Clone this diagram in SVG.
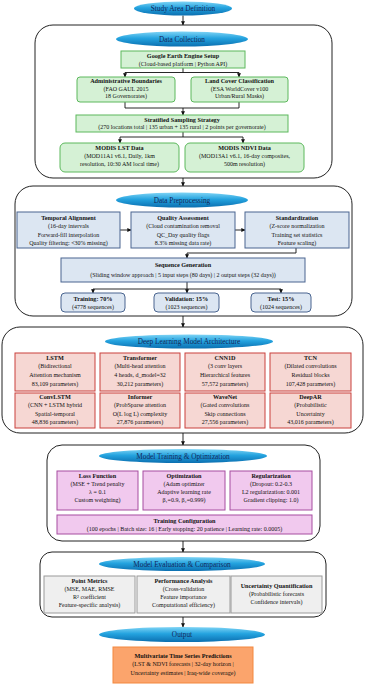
<svg xmlns="http://www.w3.org/2000/svg" width="366" height="685" viewBox="0 0 366 685">
<defs>
<linearGradient id="bg" x1="0" y1="0" x2="0" y2="1">
<stop offset="0" stop-color="#7fd4f5"/>
<stop offset="0.45" stop-color="#24a3df"/>
<stop offset="1" stop-color="#0b6fb0"/>
</linearGradient>
<marker id="ar" viewBox="0 0 6 6" refX="5.5" refY="3" markerWidth="4" markerHeight="4" orient="auto" markerUnits="userSpaceOnUse">
<path d="M0,0 L6,3 L0,6 z" fill="#111"/>
</marker>
</defs>
<style>
text{font-family:"Liberation Serif","Times New Roman",serif;font-size:6px;fill:#111;text-anchor:middle}
.t{font-weight:bold;font-size:6.2px}
.e text{font-size:7.3px;fill:#14285a}
.ell{fill:url(#bg)}
.outer{fill:#fff;stroke:#222;stroke-width:1}
.g{fill:#d5f1d5;stroke:#5cb85c;stroke-width:1}
.b{fill:#dce6f2;stroke:#4a6590;stroke-width:1}
.r{fill:#f6d7d3;stroke:#c9403c;stroke-width:1}
.p{fill:#f1c9ee;stroke:#a64ca0;stroke-width:1}
.k{fill:#efefef;stroke:#9a9a9a;stroke-width:1}
.o{fill:#fba46c;stroke:#f3883e;stroke-width:1}
.c path{fill:none;stroke:#111;stroke-width:0.9}
</style>

<g id="containers">
<rect class="outer" x="35" y="25" width="297" height="153" rx="18"/>
<rect class="outer" x="15" y="186" width="337" height="130" rx="18"/>
<rect class="outer" x="2" y="327" width="361" height="106" rx="18"/>
<rect class="outer" x="47" y="445" width="273" height="96" rx="15"/>
<rect class="outer" x="40" y="552" width="286" height="65" rx="12"/>
</g>

<g id="connectors" class="c">
<path d="M183,15.5 V25" marker-end="url(#ar)"/>
<path d="M183,68 V72.5 M125,72.5 H239"/>
<path d="M125,72.5 V77" marker-end="url(#ar)"/>
<path d="M239,72.5 V77" marker-end="url(#ar)"/>
<path d="M125,102 V108 H239 V102"/>
<path d="M183,108 V115" marker-end="url(#ar)"/>
<path d="M183,132 V137 M120,137 H243"/>
<path d="M120,137 V143" marker-end="url(#ar)"/>
<path d="M243,137 V143" marker-end="url(#ar)"/>
<path d="M183,178 V186" marker-end="url(#ar)"/>
<path d="M120,230 H131" marker-end="url(#ar)"/>
<path d="M235,230 H245" marker-end="url(#ar)"/>
<path d="M296,248 V253 H187 V258" marker-end="url(#ar)"/>
<path d="M187,282 V289 M93,289 H281"/>
<path d="M93,289 V293" marker-end="url(#ar)"/>
<path d="M187,289 V293" marker-end="url(#ar)"/>
<path d="M281,289 V293" marker-end="url(#ar)"/>
<path d="M183,316 V327" marker-end="url(#ar)"/>
<path d="M183,433 V445" marker-end="url(#ar)"/>
<path d="M183,541 V552" marker-end="url(#ar)"/>
<path d="M183,617 V627" marker-end="url(#ar)"/>
</g>

<g id="study-area" class="e"><ellipse class="ell" cx="183" cy="8.5" rx="49" ry="7"/><text x="183" y="11">Study Area Definition</text></g>

<g id="data-collection-title" class="e"><ellipse class="ell" cx="182" cy="39" rx="66" ry="7.5"/><text x="182" y="41.5">Data Collection</text></g>
<g id="gee"><rect class="g" x="121" y="51" width="124" height="17"/><text class="t" x="183" y="58">Google Earth Engine Setup</text><text x="183" y="65.5">(Cloud-based platform | Python API)</text></g>
<g id="admin"><rect class="g" x="77" y="77" width="98" height="25" rx="3"/><text class="t" x="126" y="83">Administrative Boundaries</text><text x="126" y="90.5">(FAO GAUL 2015</text><text x="126" y="98">18 Governorates)</text></g>
<g id="landcover"><rect class="g" x="191" y="77" width="97" height="25" rx="3"/><text class="t" x="239.5" y="83">Land Cover Classification</text><text x="239.5" y="90.5">(ESA WorldCover v100</text><text x="239.5" y="98">Urban/Rural Masks)</text></g>
<g id="sampling"><rect class="g" x="76" y="115" width="212" height="17"/><text class="t" x="182" y="121.5">Stratified Sampling Strategy</text><text x="182" y="129">(270 locations total | 135 urban + 135 rural | 2 points per governorate)</text></g>
<g id="modis-lst"><rect class="g" x="60" y="143" width="119" height="29" rx="5"/><text class="t" x="119.5" y="149.5">MODIS LST Data</text><text x="119.5" y="157.5">(MOD11A1 v6.1, Daily, 1km</text><text x="119.5" y="165.5">resolution, 10:30 AM local time)</text></g>
<g id="modis-ndvi"><rect class="g" x="185" y="143" width="119" height="29" rx="5"/><text class="t" x="244.5" y="149.5">MODIS NDVI Data</text><text x="244.5" y="157.5">(MOD13A1 v6.1, 16-day composites,</text><text x="244.5" y="165.5">500m resolution)</text></g>

<g id="preprocessing-title" class="e"><ellipse class="ell" cx="182" cy="200" rx="66" ry="7.5"/><text x="182" y="202.5">Data Preprocessing</text></g>
<g id="temporal"><rect class="b" x="17" y="212" width="103" height="36"/><text class="t" x="68.5" y="219.5">Temporal Alignment</text><text x="68.5" y="228">(16-day intervals</text><text x="68.5" y="236.5">Forward-fill interpolation</text><text x="68.5" y="245">Quality filtering: &lt;30% missing)</text></g>
<g id="quality"><rect class="b" x="131" y="212" width="104" height="36"/><text class="t" x="183" y="219.5">Quality Assessment</text><text x="183" y="228">(Cloud contamination removal</text><text x="183" y="236.5">QC_Day quality flags</text><text x="183" y="245">8.3% missing data rate)</text></g>
<g id="standardization"><rect class="b" x="245" y="212" width="104" height="36"/><text class="t" x="297" y="219.5">Standardization</text><text x="297" y="228">(Z-score normalization</text><text x="297" y="236.5">Training set statistics</text><text x="297" y="245">Feature scaling)</text></g>
<g id="sequence"><rect class="b" x="61" y="258" width="244" height="24"/><text class="t" x="183" y="267">Sequence Generation</text><text x="183" y="276.5">(Sliding window approach | 5 input steps (80 days) | 2 output steps (32 days))</text></g>
<g id="training-split"><rect class="b" x="61" y="293" width="64" height="19" rx="4"/><text class="t" x="93" y="300.5">Training: 70%</text><text x="93" y="308.5">(4778 sequences)</text></g>
<g id="validation-split"><rect class="b" x="154" y="293" width="65" height="19" rx="4"/><text class="t" x="186.5" y="300.5">Validation: 15%</text><text x="186.5" y="308.5">(1023 sequences)</text></g>
<g id="test-split"><rect class="b" x="251" y="293" width="60" height="19" rx="4"/><text class="t" x="281" y="300.5">Test: 15%</text><text x="281" y="308.5">(1024 sequences)</text></g>

<g id="dl-title" class="e"><ellipse class="ell" cx="189" cy="341.5" rx="84" ry="7"/><text x="189" y="344">Deep Learning Model Architecture</text></g>
<g id="lstm"><rect class="r" x="15" y="353" width="80" height="38"/><text class="t" x="55" y="359.5">LSTM</text><text x="55" y="368">(Bidirectional</text><text x="55" y="377">Attention mechanism</text><text x="55" y="386">83,109 parameters)</text></g>
<g id="transformer"><rect class="r" x="100" y="353" width="80" height="38"/><text class="t" x="140" y="359.5">Transformer</text><text x="140" y="368">(Multi-head attention</text><text x="140" y="377">4 heads, d_model=32</text><text x="140" y="386">30,212 parameters)</text></g>
<g id="cnn1d"><rect class="r" x="185" y="353" width="80" height="38"/><text class="t" x="225" y="359.5">CNN1D</text><text x="225" y="368">(3 conv layers</text><text x="225" y="377">Hierarchical features</text><text x="225" y="386">57,572 parameters)</text></g>
<g id="tcn"><rect class="r" x="270" y="353" width="81" height="38"/><text class="t" x="310.5" y="359.5">TCN</text><text x="310.5" y="368">(Dilated convolutions</text><text x="310.5" y="377">Residual blocks</text><text x="310.5" y="386">107,428 parameters)</text></g>
<g id="convlstm"><rect class="r" x="15" y="393" width="80" height="35"/><text class="t" x="55" y="398.5">ConvLSTM</text><text x="55" y="407">(CNN + LSTM hybrid</text><text x="55" y="415.5">Spatial-temporal</text><text x="55" y="424">48,836 parameters)</text></g>
<g id="informer"><rect class="r" x="100" y="393" width="80" height="35"/><text class="t" x="140" y="398.5">Informer</text><text x="140" y="407">(ProbSparse attention</text><text x="140" y="415.5">O(L log L) complexity</text><text x="140" y="424">27,876 parameters)</text></g>
<g id="wavenet"><rect class="r" x="185" y="393" width="80" height="35"/><text class="t" x="225" y="398.5">WaveNet</text><text x="225" y="407">(Gated convolutions</text><text x="225" y="415.5">Skip connections</text><text x="225" y="424">27,556 parameters)</text></g>
<g id="deepar"><rect class="r" x="270" y="393" width="81" height="35"/><text class="t" x="310.5" y="398.5">DeepAR</text><text x="310.5" y="407">(Probabilistic</text><text x="310.5" y="415.5">Uncertainty</text><text x="310.5" y="424">43,016 parameters)</text></g>

<g id="training-title" class="e"><ellipse class="ell" cx="183" cy="456" rx="84" ry="7"/><text x="183" y="458.5">Model Training &amp; Optimization</text></g>
<g id="loss"><rect class="p" x="57" y="471" width="81" height="39"/><text class="t" x="97.5" y="477.5">Loss Function</text><text x="97.5" y="485.5">(MSE + Trend penalty</text><text x="97.5" y="493.5">λ = 0.1</text><text x="97.5" y="501.5">Custom weighting)</text></g>
<g id="optimization"><rect class="p" x="143" y="471" width="82" height="39"/><text class="t" x="184" y="477.5">Optimization</text><text x="184" y="485.5">(Adam optimizer</text><text x="184" y="493.5">Adaptive learning rate</text><text x="184" y="501.5">β₁=0.9, β₂=0.999)</text></g>
<g id="regularization"><rect class="p" x="230" y="471" width="82" height="39"/><text class="t" x="271" y="477.5">Regularization</text><text x="271" y="485.5">(Dropout: 0.2-0.3</text><text x="271" y="493.5">L2 regularization: 0.001</text><text x="271" y="501.5">Gradient clipping: 1.0)</text></g>
<g id="train-config"><rect class="p" x="57" y="515" width="255" height="19"/><text class="t" x="184.5" y="522.5">Training Configuration</text><text x="184.5" y="530.5">(100 epochs | Batch size: 16 | Early stopping: 20 patience | Learning rate: 0.0005)</text></g>

<g id="eval-title" class="e"><ellipse class="ell" cx="182" cy="564" rx="83" ry="7"/><text x="182" y="566.5">Model Evaluation &amp; Comparison</text></g>
<g id="point-metrics"><rect class="k" x="44" y="576" width="91" height="37"/><text class="t" x="89.5" y="583">Point Metrics</text><text x="89.5" y="591">(MSE, MAE, RMSE</text><text x="89.5" y="599">R² coefficient</text><text x="89.5" y="607">Feature-specific analysis)</text></g>
<g id="performance"><rect class="k" x="137" y="576" width="93" height="37"/><text class="t" x="183.5" y="583">Performance Analysis</text><text x="183.5" y="591">(Cross-validation</text><text x="183.5" y="599">Feature importance</text><text x="183.5" y="607">Computational efficiency)</text></g>
<g id="uncertainty"><rect class="k" x="231" y="576" width="91" height="37"/><text class="t" x="276.5" y="587.5">Uncertainty Quantification</text><text x="276.5" y="595.5">(Probabilistic forecasts</text><text x="276.5" y="603.5">Confidence intervals)</text></g>

<g id="output-title" class="e"><ellipse class="ell" cx="182" cy="634.5" rx="83" ry="7.5"/><text x="182" y="637">Output</text></g>
<g id="predictions"><rect class="o" x="113" y="647" width="140" height="36"/><text class="t" x="183" y="657.5">Multivariate Time Series Predictions</text><text x="183" y="666">(LST &amp; NDVI forecasts | 32-day horizon |</text><text x="183" y="674.5">Uncertainty estimates | Iraq-wide coverage)</text></g>
</svg>
